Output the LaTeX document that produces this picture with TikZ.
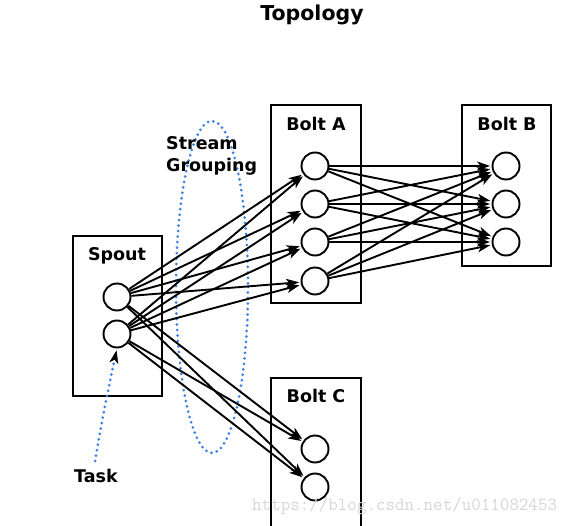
\documentclass[tikz,border=0pt]{standalone}
\usepackage{fontspec}
\setmainfont{DejaVu Sans}
\usetikzlibrary{arrows.meta}
\definecolor{dotblue}{RGB}{58,128,230}
\definecolor{wmgrey}{RGB}{214,214,214}
\tikzset{
  task/.style={circle, draw, line width=1.9pt, minimum size=27pt, inner sep=0pt},
  box/.style={draw, line width=2.4pt},
  lbl/.style={font=\fontsize{17.5}{20}\selectfont\bfseries, anchor=base, inner sep=0pt},
  edge/.style={line width=1.9pt, shorten >=1.5pt, -{Stealth[length=13pt,width=9pt,inset=3.5pt]}},
  blue dots/.style={dotblue, line width=3pt, line cap=round, dash pattern=on 0pt off 5.5pt}
}
\begin{document}
\begin{tikzpicture}[x=1pt,y=-1pt]
\useasboundingbox (0,0) rectangle (584,526);
% boxes
\draw[box] (73,236) rectangle (162,396);
\draw[box] (271,105) rectangle (361,303);
\draw[box] (462,105) rectangle (551,266);
\draw[box] (271,530) -- (271,378) -- (361,378) -- (361,530);
% stream grouping ellipse
\draw[blue dots] (212,287) ellipse [x radius=36, y radius=166];
% labels
\node[lbl, font=\fontsize{20.5}{24}\selectfont\bfseries] (title) at (312,21) {Topology};
\node[lbl] (lspout) at (117,261) {Spout};
\node[lbl] (lboltA) at (316,131) {Bolt A};
\node[lbl] (lboltB) at (507,131) {Bolt B};
\node[lbl] (lboltC) at (316,403) {Bolt C};
\node[lbl, anchor=base west] (lstream) at (166,150) {Stream};
\node[lbl, anchor=base west] (lgroup) at (166,172) {Grouping};
\node[lbl] (ltask) at (96,483) {Task};
% tasks
\node[task] (s1) at (117,297) {};
\node[task] (s2) at (117,334) {};
\node[task] (a1) at (315,166) {};
\node[task] (a2) at (315,204) {};
\node[task] (a3) at (315,242) {};
\node[task] (a4) at (315,281) {};
\node[task] (b1) at (506,166) {};
\node[task] (b2) at (506,204) {};
\node[task] (b3) at (506,242) {};
\node[task] (c1) at (315,449) {};
\node[task] (c2) at (315,487) {};
% edges spout -> A and C
\foreach \s in {s1,s2}{
  \foreach \t in {a1,a2,a3,a4,c1,c2}{
    \draw[edge] (\s) -- (\t);
  }
}
% edges A -> B
\foreach \s in {a1,a2,a3,a4}{
  \foreach \t in {b1,b2,b3}{
    \draw[edge] (\s) -- (\t);
  }
}
% task pointer
\coordinate (taskstart) at (95,461);
\draw[blue dots, shorten >=2pt, -{Stealth[length=13pt,width=9pt,inset=3.5pt,color=black,line cap=butt,line width=0.5pt]}] (taskstart) .. controls (102,420) and (108,390) .. (s2.south);
% watermark
\node[anchor=base west, inner sep=0pt, text=wmgrey, font=\fontsize{18.5}{20}\selectfont\ttfamily] (wm) at (252,511) {https://blog.csdn.net/u011082453};
\end{tikzpicture}
\end{document}
